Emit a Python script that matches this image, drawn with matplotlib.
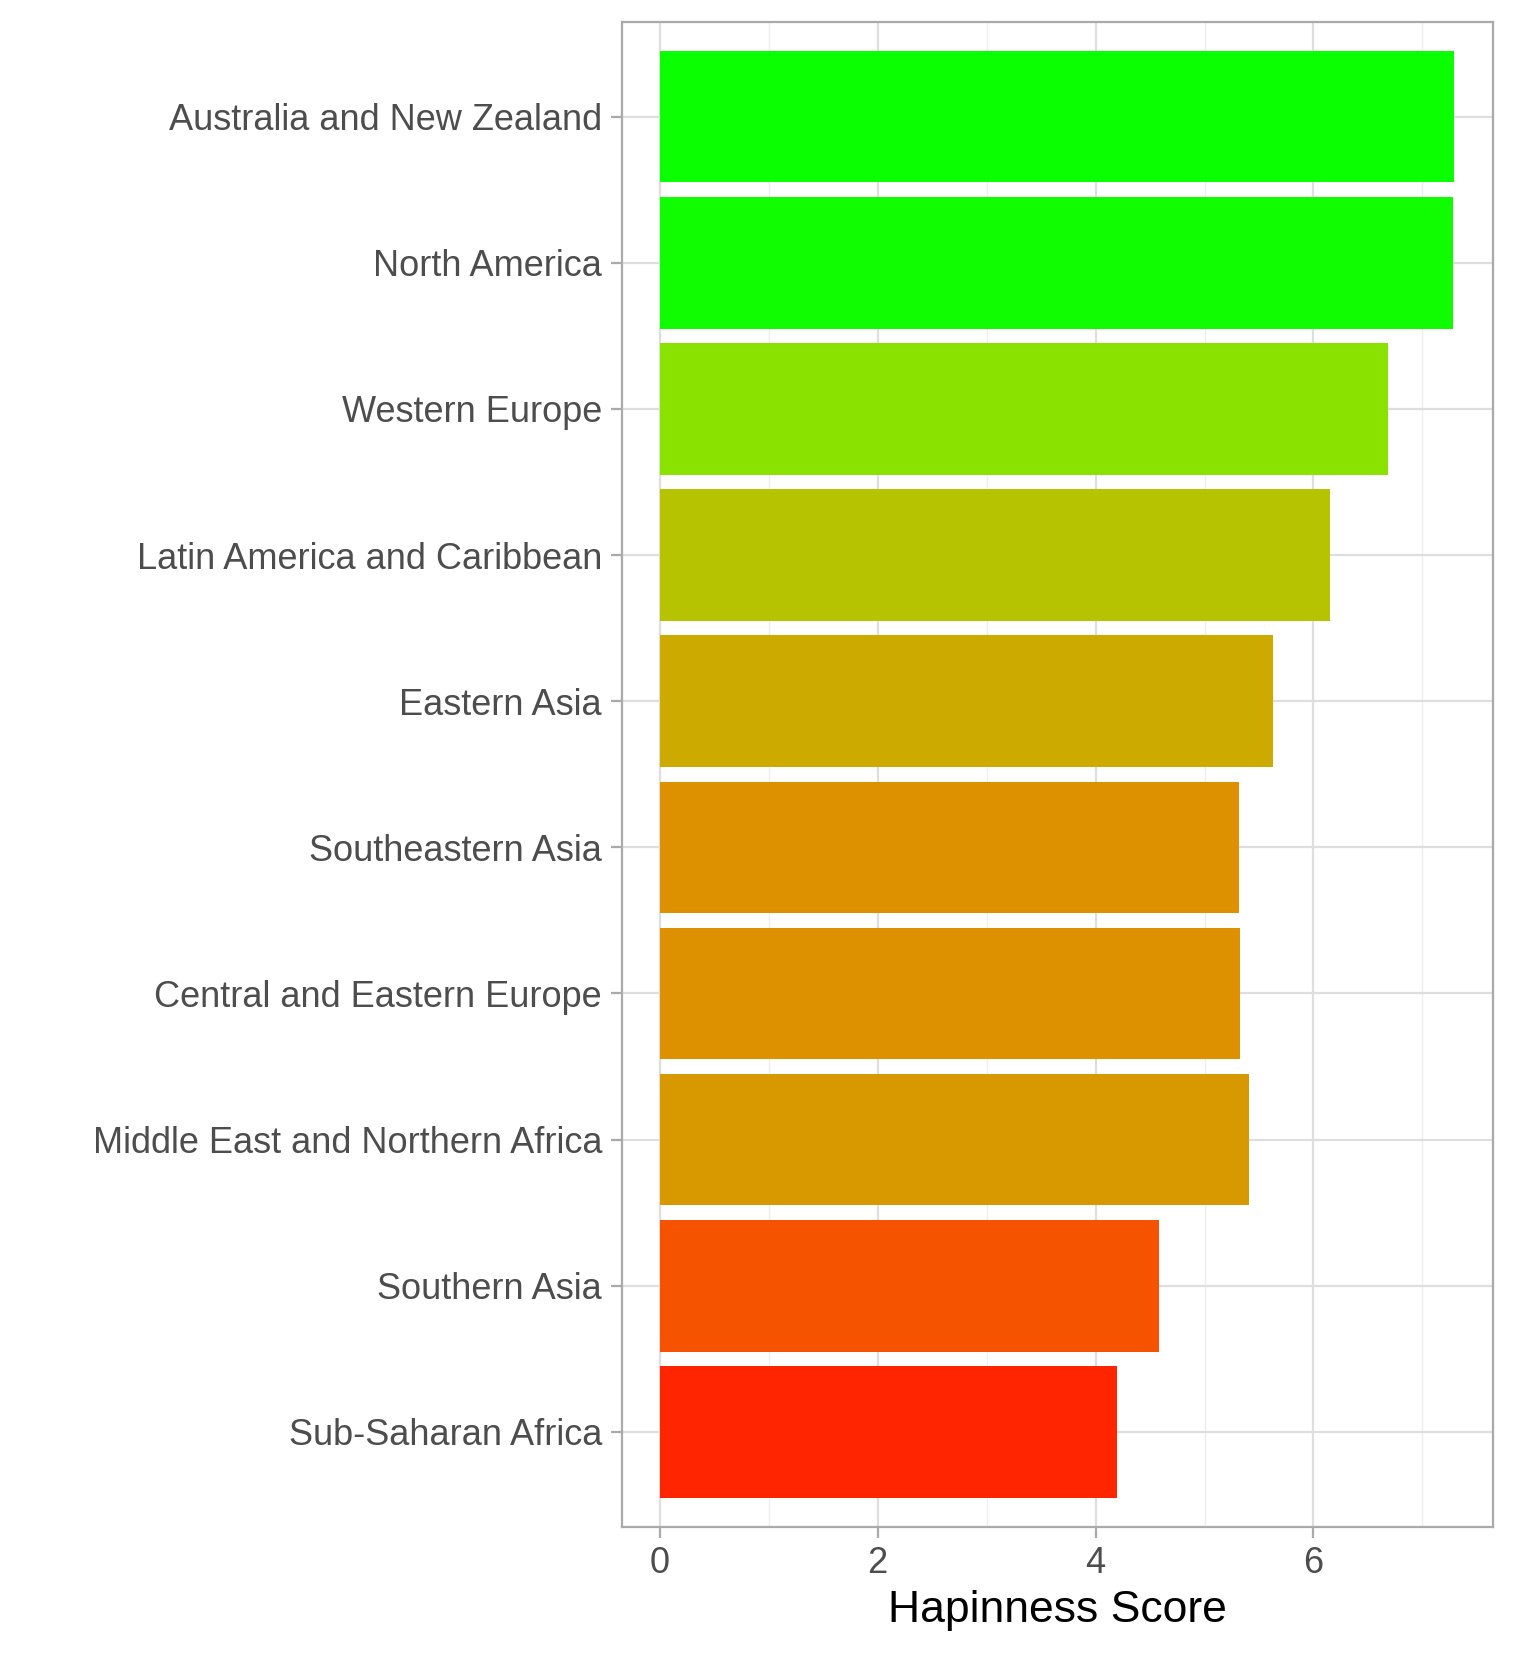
import matplotlib
matplotlib.use("Agg")
import matplotlib.pyplot as plt
import numpy as np

regions = [
    "Australia and New Zealand", "North America", "Western Europe",
    "Latin America and Caribbean", "Eastern Asia", "Southeastern Asia",
    "Central and Eastern Europe", "Middle East and Northern Africa",
    "Southern Asia", "Sub-Saharan Africa",
]
scores = [7.29, 7.28, 6.68, 6.15, 5.63, 5.32, 5.33, 5.41, 4.58, 4.20]
colors = ["#0AFF00", "#10FC00", "#8AE200", "#B5C300", "#CDAA00",
          "#DE9100", "#DE9100", "#D89800", "#F55300", "#FF2500"]

plt.rcParams["font.family"] = ["Liberation Sans", "DejaVu Sans"]
fig = plt.figure(figsize=(7.58, 8.33), dpi=200)
ax = fig.add_axes([0.41, 0.0835, 0.575, 0.9035])

ypos = np.arange(len(regions))[::-1]
ax.barh(ypos, scores, height=0.9, color=colors, zorder=2)

ax.set_xlim(-0.35, 7.65)
ax.set_ylim(-0.65, len(regions) - 0.35)
ax.set_xticks([0, 2, 4, 6])
ax.set_xticks([1, 3, 5, 7], minor=True)
ax.set_yticks(ypos, regions)
ax.grid(which="major", color="#DEDEDE", linewidth=0.8, zorder=0)
ax.grid(which="minor", axis="x", color="#EEEEEE", linewidth=0.5, zorder=0)
ax.tick_params(which="minor", length=0)
ax.tick_params(which="major", length=4, color="#AAAAAA", labelsize=13,
               labelcolor="#4D4D4D", pad=3)
for spine in ax.spines.values():
    spine.set_color("#AAAAAA")
    spine.set_linewidth(0.8)
ax.set_xlabel("Hapinness Score", fontsize=16, color="black", labelpad=3)

fig.savefig("out.png", dpi=200)
